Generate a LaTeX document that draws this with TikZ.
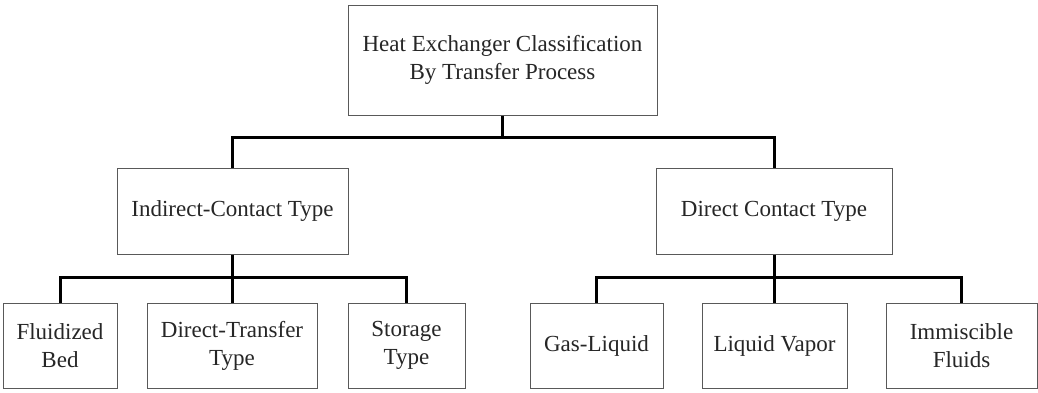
\documentclass[tikz,border=0pt]{standalone}
\usepackage{fontspec}
\setmainfont{Liberation Serif}
\begin{document}
\begin{tikzpicture}[x=1pt,y=-1pt,
  box/.style={draw=black!65, line width=1pt, fill=white, inner sep=0pt, align=center,
    font=\fontsize{23}{28}\selectfont, text=black!85},
  conn/.style={draw=black, line width=3pt, line join=miter}]
\useasboundingbox (0,0) rectangle (1038,392);
% boxes
\node[box, minimum width=309pt, minimum height=110pt] (top) at (502.5,60) {Heat Exchanger Classification\\By Transfer Process};
\node[box, minimum width=231pt, minimum height=86pt] (ind) at (232.5,211) {Indirect-Contact Type};
\node[box, minimum width=236pt, minimum height=86pt] (dir) at (774,211) {Direct Contact Type};
\node[box, minimum width=114pt, minimum height=85pt] (flu) at (60,345.5) {Fluidized\\Bed};
\node[box, minimum width=170pt, minimum height=85pt] (dtt) at (232,345.5) {Direct-Transfer\\Type};
\node[box, minimum width=117pt, minimum height=85pt] (sto) at (406.5,345.5) {Storage\\Type};
\node[box, minimum width=133pt, minimum height=85pt] (gas) at (596.5,345.5) {Gas-Liquid};
\node[box, minimum width=145pt, minimum height=85pt] (liq) at (774.5,345.5) {Liquid Vapor};
\node[box, minimum width=151pt, minimum height=85pt] (imm) at (961.5,345.5) {Immiscible\\Fluids};
% bus levels
\coordinate (busA) at (0,137);
\coordinate (busB) at (0,277);
% connectors
\draw[conn] (top.south) -- (top.south |- busA);
\draw[conn] (ind.north) -- (ind.north |- busA) -- (dir.north |- busA) -- (dir.north);
\draw[conn] (ind.south) -- (ind.south |- busB);
\draw[conn] (flu.north) -- (flu.north |- busB) -- (sto.north |- busB) -- (sto.north);
\draw[conn] (dtt.north) -- (dtt.north |- busB);
\draw[conn] (dir.south) -- (dir.south |- busB);
\draw[conn] (gas.north) -- (gas.north |- busB) -- (imm.north |- busB) -- (imm.north);
\draw[conn] (liq.north) -- (liq.north |- busB);
\end{tikzpicture}
\end{document}
